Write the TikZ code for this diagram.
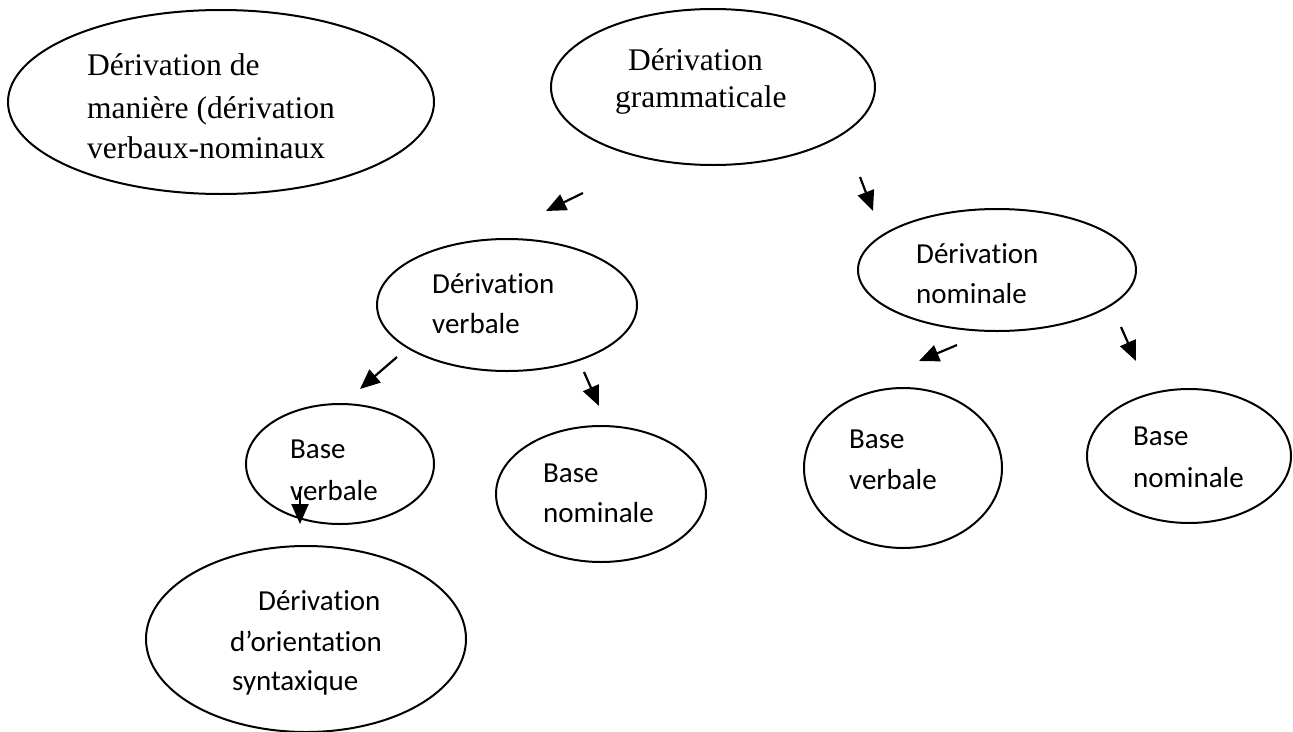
\documentclass[tikz,border=0pt]{standalone}
\usepackage{fontspec}
\setmainfont{Liberation Serif}
\newfontfamily\calib[Ligatures=NoCommon]{Carlito}
\usetikzlibrary{arrows.meta,shapes.geometric}
\begin{document}
\begin{tikzpicture}[x=1pt,y=-1pt,
  ell/.style={draw,line width=2pt,ellipse,inner sep=0pt},
  ser/.style={anchor=base west,inner sep=0pt,font=\fontsize{31.5}{38}\selectfont},
  san/.style={anchor=base west,inner sep=0pt,font=\calib\fontsize{29}{36}\selectfont},
  arr/.style={line width=2.2pt,-{Triangle[length=20pt,width=17pt]}}]
\useasboundingbox (0,0) rectangle (1293,731);
% ellipses
\node[ell,minimum width=426pt,minimum height=184pt] (e1) at (221,102) {};
\node[ell,minimum width=324pt,minimum height=156pt] (e2) at (713,87) {};
\node[ell,minimum width=260pt,minimum height=132pt] (e3) at (507,305) {};
\node[ell,minimum width=278pt,minimum height=122pt] (e4) at (997,270) {};
\node[ell,minimum width=188pt,minimum height=120pt] (e5) at (340,464) {};
\node[ell,minimum width=320pt,minimum height=186pt] (e6) at (306,639) {};
\node[ell,minimum width=210pt,minimum height=136pt] (e7) at (601,494) {};
\node[ell,minimum width=198pt,minimum height=160pt] (e8) at (903,468) {};
\node[ell,minimum width=204pt,minimum height=134pt] (e9) at (1189,456) {};
% texts
\node[ser] (t1a) at (87,75) {Dérivation de};
\node[ser] (t1b) at (87,118) {manière (dérivation};
\node[ser] (t1c) at (87,158) {verbaux-nominaux};
\node[ser] (t2a) at (628,70) {Dérivation};
\node[ser] (t2b) at (615,107) {grammaticale};
\node[san] (t3a) at (432,293) {Dérivation};
\node[san] (t3b) at (432,333) {verbale};
\node[san] (t4a) at (916,263) {Dérivation};
\node[san] (t4b) at (916,303) {nominale};
\node[san] (t5a) at (290,458) {Base};
\node[san] (t5b) at (290,500) {verbale};
\node[san] (t6a) at (258,610) {Dérivation};
\node[san] (t6b) at (230,651) {d’orientation};
\node[san] (t6c) at (232,690) {syntaxique};
\node[san] (t7a) at (543,482) {Base};
\node[san] (t7b) at (543,522) {nominale};
\node[san] (t8a) at (849,448) {Base};
\node[san] (t8b) at (849,489) {verbale};
\node[san] (t9a) at (1133,445) {Base};
\node[san] (t9b) at (1133,487) {nominale};
% arrow coordinates
\coordinate (a1s) at (583,193); \coordinate (a1e) at (546,211);
\coordinate (a2s) at (860,177); \coordinate (a2e) at (873,211);
\coordinate (a3s) at (397,357); \coordinate (a3e) at (360,389);
\coordinate (a4s) at (584,372); \coordinate (a4e) at (599,406);
\coordinate (a5s) at (957,345); \coordinate (a5e) at (919,361);
\coordinate (a6s) at (1121,327); \coordinate (a6e) at (1136,361);
\coordinate (a7s) at (300,487); \coordinate (a7e) at (300,524);
\draw[arr] (a1s) -- (a1e);
\draw[arr] (a2s) -- (a2e);
\draw[arr] (a3s) -- (a3e);
\draw[arr] (a4s) -- (a4e);
\draw[arr] (a5s) -- (a5e);
\draw[arr] (a6s) -- (a6e);
\draw[arr] (a7s) -- (a7e);
\end{tikzpicture}
\end{document}
